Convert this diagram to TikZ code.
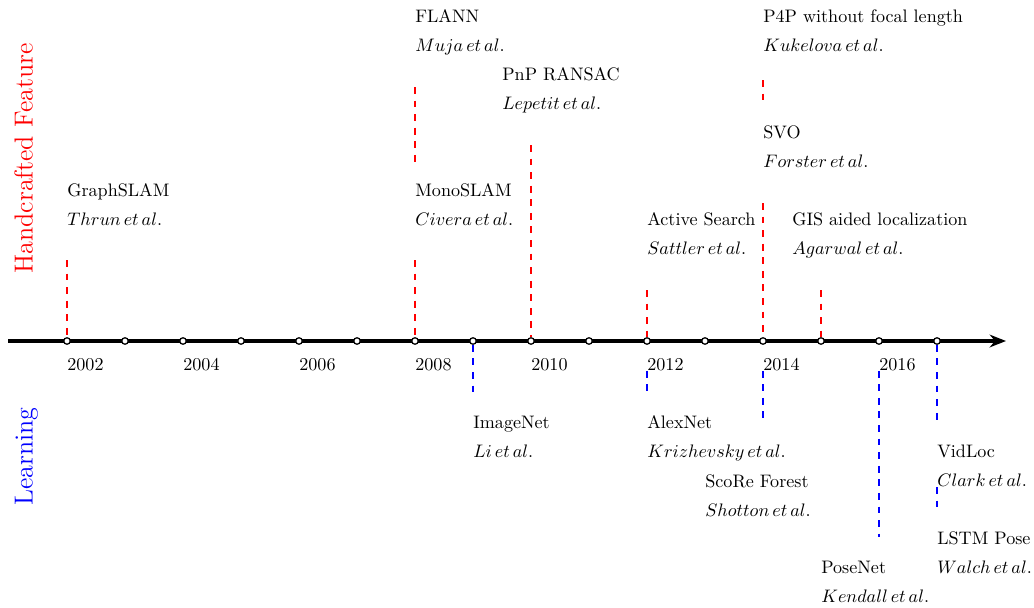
\documentclass[tikz,border=0pt]{standalone}
\usetikzlibrary{arrows.meta}
\definecolor{handred}{RGB}{255,0,0}
\definecolor{learnblue}{RGB}{0,0,255}
\begin{document}
\begin{tikzpicture}[x=0.5525pt,y=-0.5525pt,
  yeardot/.style={circle,draw=black,fill=white,line width=0.7pt,inner sep=0pt,minimum size=3.6pt},
  yearlbl/.style={anchor=base west,inner sep=0pt},
  evtitle/.style={anchor=base west,inner sep=0pt},
  evauthor/.style={anchor=base west,inner sep=0pt},
  leader/.style={dash pattern=on 3.75pt off 3.75pt,line width=0.6pt},
  handline/.style={leader,draw=handred},
  learnline/.style={leader,draw=learnblue},
  axisline/.style={line width=2.2pt,-{Stealth[length=9pt,width=7pt]}},
  sidelbl/.style={rotate=90,anchor=base,font=\Large}]
\useasboundingbox (0,0) rectangle (1034,608);

% time axis
\coordinate (axstart) at (8,341);
\coordinate (axend) at (1006,341);
\draw[axisline] (axstart) -- (axend);

% one dot per year, 2002 ... 2017
\foreach \i [evaluate=\i as \yr using int(2002+\i)] in {0,...,15}
  \node[yeardot] (d\yr) at ({67+58*\i},341) {};

% year labels
\foreach \i [evaluate=\i as \yr using int(2002+2*\i)] in {0,...,7}
  \node[yearlbl] (y\yr) at ({67+116*\i},370) {\yr};

% side captions
\node[sidelbl,text=handred] (hand) at (32.5,158.5) {Handcrafted Feature};
\node[sidelbl,text=learnblue] (learn) at (32.5,456.5) {Learning};

% handcrafted-feature events
\node[evtitle] (graphslam) at (67,196) {GraphSLAM};
\node[evauthor] (graphslam-a) at (67,225) {$Thrun\,et\,al.$};
\node[evtitle] (flann) at (415,22) {FLANN};
\node[evauthor] (flann-a) at (415,51) {$Muja\,et\,al.$};
\node[evtitle] (pnp) at (502,80) {PnP RANSAC};
\node[evauthor] (pnp-a) at (502,109) {$Lepetit\,et\,al.$};
\node[evtitle] (monoslam) at (415,196) {MonoSLAM};
\node[evauthor] (monoslam-a) at (415,225) {$Civera\,et\,al.$};
\node[evtitle] (active) at (647,225) {Active Search};
\node[evauthor] (active-a) at (647,254) {$Sattler\,et\,al.$};
\node[evtitle] (p4p) at (763,22) {P4P without focal length};
\node[evauthor] (p4p-a) at (763,51) {$Kukelova\,et\,al.$};
\node[evtitle] (svo) at (763,138) {SVO};
\node[evauthor] (svo-a) at (763,167) {$Forster\,et\,al.$};
\node[evtitle] (gis) at (792,225) {GIS aided localization};
\node[evauthor] (gis-a) at (792,254) {$Agarwal\,et\,al.$};

% learning events
\node[evtitle] (imagenet) at (473,428) {ImageNet};
\node[evauthor] (imagenet-a) at (473,457) {$Li\,et\,al.$};
\node[evtitle] (alexnet) at (647,428) {AlexNet};
\node[evauthor] (alexnet-a) at (647,457) {$Krizhevsky\,et\,al.$};
\node[evtitle] (score) at (705,487) {ScoRe Forest};
\node[evauthor] (score-a) at (705,516) {$Shotton\,et\,al.$};
\node[evtitle] (posenet) at (821,573) {PoseNet};
\node[evauthor] (posenet-a) at (821,602) {$Kendall\,et\,al.$};
\node[evtitle] (vidloc) at (937,457) {VidLoc};
\node[evauthor] (vidloc-a) at (937,486) {$Clark\,et\,al.$};
\node[evtitle] (lstm) at (937,544) {LSTM Pose};
\node[evauthor] (lstm-a) at (937,573) {$Walch\,et\,al.$};

% ends of the leader lines
\coordinate (graphslam-l) at (67,260);
\coordinate (flann-t) at (415,87);
\coordinate (flann-b) at (415,168);
\coordinate (monoslam-l) at (415,260);
\coordinate (pnp-l) at (531,145);
\coordinate (active-l) at (647,290);
\coordinate (p4p-t) at (763,80);
\coordinate (p4p-b) at (763,102);
\coordinate (svo-l) at (763,203);
\coordinate (gis-l) at (821,290);
\coordinate (imagenet-l) at (473,392);
\coordinate (alexnet-l) at (647,392);
\coordinate (score-l) at (763,420);
\coordinate (posenet-l) at (879,537);
\coordinate (vidloc-l) at (937,420);
\coordinate (lstm-t) at (937,487);
\coordinate (lstm-b) at (937,507);

% handcrafted leaders
\draw[handline] (graphslam-l) -- (d2002);
\draw[handline] (flann-t) -- (flann-b);
\draw[handline] (monoslam-l) -- (d2008);
\draw[handline] (pnp-l) -- (d2010);
\draw[handline] (active-l) -- (d2012);
\draw[handline] (p4p-t) -- (p4p-b);
\draw[handline] (svo-l) -- (d2014);
\draw[handline] (gis-l) -- (d2015);

% learning leaders
\draw[learnline] (d2009) -- (imagenet-l);
\draw[learnline] (y2012.south west) -- (alexnet-l);
\draw[learnline] (y2014.south west) -- (score-l);
\draw[learnline] (y2016.south west) -- (posenet-l);
\draw[learnline] (d2017) -- (vidloc-l);
\draw[learnline] (lstm-t) -- (lstm-b);
\end{tikzpicture}
\end{document}
